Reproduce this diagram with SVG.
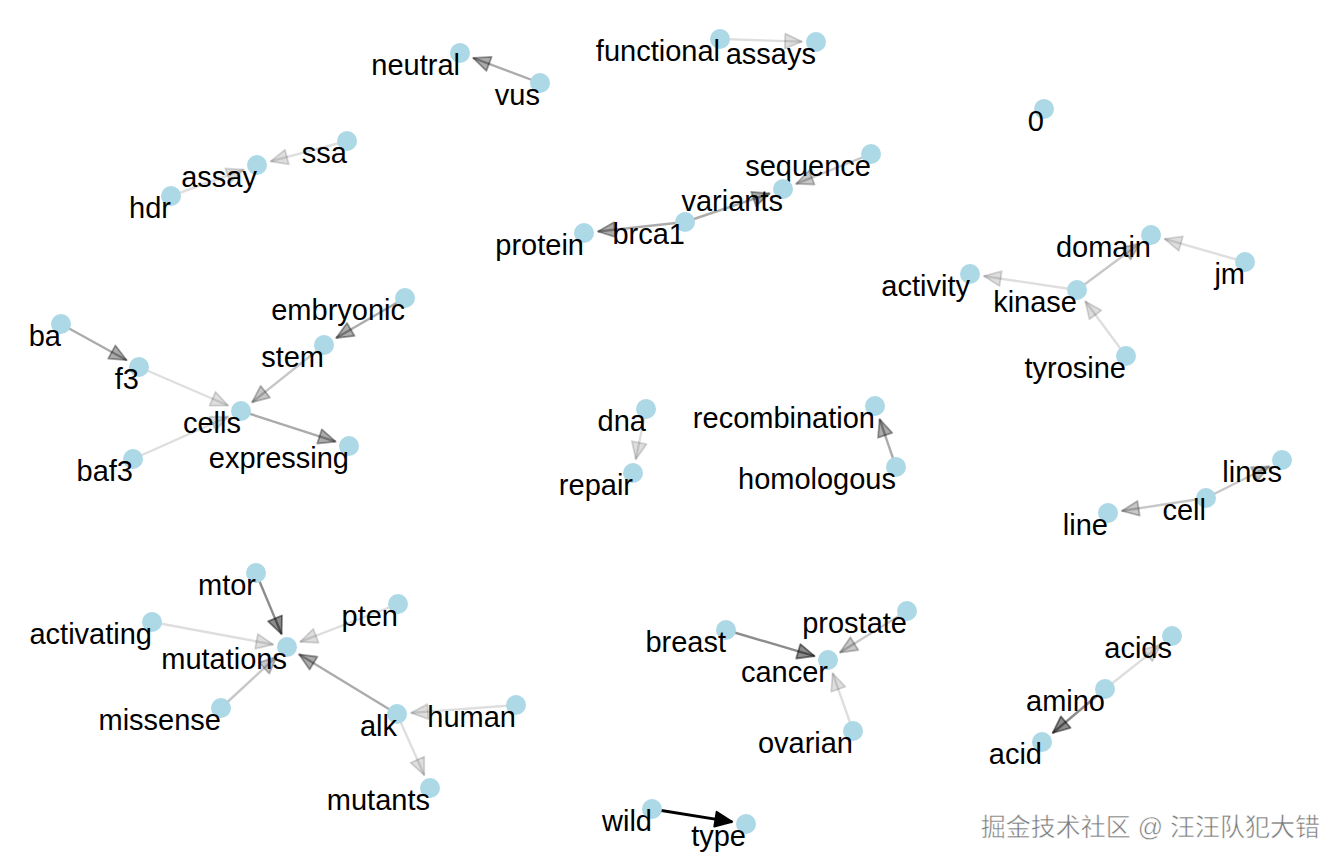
<svg xmlns="http://www.w3.org/2000/svg" width="1344" height="864" viewBox="0 0 1344 864">
<style>
.n circle{fill:#add8e6}
.n text{font-family:"Liberation Sans",Arial,Helvetica,sans-serif;font-size:29px;fill:#000;text-anchor:end}
.e{fill:none;stroke-width:2.4;stroke:#000}
.e1{stroke-opacity:0.13;marker-end:url(#m1)}
.e2{stroke-opacity:0.22;marker-end:url(#m2)}
.e3{stroke-opacity:0.33;marker-end:url(#m3)}
.e4{stroke-opacity:0.45;marker-end:url(#m4)}
.e5{stroke-opacity:1;stroke-width:2.8;marker-end:url(#m5)}
.wm{font-family:"Liberation Sans","Noto Sans CJK SC",sans-serif;font-size:25px;fill:#7a7a7a;stroke:#fff;stroke-width:0.5;text-anchor:end}
</style>
<defs>
<marker id="m1" markerUnits="userSpaceOnUse" markerWidth="26" markerHeight="26" refX="18" refY="8.5" orient="auto" overflow="visible"><polygon points="1,1 18,8.5 1,16" fill="#000" fill-opacity="0.13" stroke="#000" stroke-opacity="0.15" stroke-width="1.8" stroke-linejoin="round"/></marker>
<marker id="m2" markerUnits="userSpaceOnUse" markerWidth="26" markerHeight="26" refX="18" refY="8.5" orient="auto" overflow="visible"><polygon points="1,1 18,8.5 1,16" fill="#000" fill-opacity="0.22" stroke="#000" stroke-opacity="0.25" stroke-width="1.8" stroke-linejoin="round"/></marker>
<marker id="m3" markerUnits="userSpaceOnUse" markerWidth="26" markerHeight="26" refX="18" refY="8.5" orient="auto" overflow="visible"><polygon points="1,1 18,8.5 1,16" fill="#000" fill-opacity="0.33" stroke="#000" stroke-opacity="0.36" stroke-width="1.8" stroke-linejoin="round"/></marker>
<marker id="m4" markerUnits="userSpaceOnUse" markerWidth="26" markerHeight="26" refX="18" refY="8.5" orient="auto" overflow="visible"><polygon points="1,1 18,8.5 1,16" fill="#000" fill-opacity="0.45" stroke="#000" stroke-opacity="0.48" stroke-width="1.8" stroke-linejoin="round"/></marker>
<marker id="m5" markerUnits="userSpaceOnUse" markerWidth="26" markerHeight="26" refX="18" refY="8.5" orient="auto" overflow="visible"><polygon points="1,1 18,8.5 1,16" fill="#000" stroke="#000" stroke-width="1.8" stroke-linejoin="round"/></marker>
</defs>
<rect width="1344" height="864" fill="#fff"/>
<g id="connectors">
<path class="e e3" d="M540,83 L473.1,57.9"/>
<path class="e e1" d="M720,39 L802,41.6"/>
<path class="e e1" d="M347,141 L270.5,161.4"/>
<path class="e e1" d="M171,196 L243.8,169.7"/>
<path class="e e2" d="M871,154 L796,183.8"/>
<path class="e e3" d="M685,222 L769.7,193.5"/>
<path class="e e3" d="M685,222 L597.9,231.5"/>
<path class="e e1" d="M1245,262 L1164.5,238.9"/>
<path class="e e2" d="M1077,290 L1139.8,243.4"/>
<path class="e e1" d="M1077,290 L983.8,276.1"/>
<path class="e e1" d="M1126,356 L1085.3,301.2"/>
<path class="e e3" d="M61,324 L126.7,360.2"/>
<path class="e e1" d="M139,367 L228.1,405.5"/>
<path class="e e3" d="M405,298 L336.1,338"/>
<path class="e e2" d="M324,345 L252,402.3"/>
<path class="e e3" d="M241,411 L335.7,441.7"/>
<path class="e e1" d="M133,459 L228.2,416.7"/>
<path class="e e1" d="M646,409 L635.8,459.3"/>
<path class="e e3" d="M896,467 L879.6,419.2"/>
<path class="e e2" d="M1206,498 L1269.5,466.3"/>
<path class="e e2" d="M1206,498 L1121.8,510.9"/>
<path class="e e4" d="M256,573 L281.6,634.1"/>
<path class="e e1" d="M398,604 L300.1,641.9"/>
<path class="e e1" d="M152,622 L273.2,644.5"/>
<path class="e e2" d="M221,708 L276.7,656.5"/>
<path class="e e3" d="M397,714 L299,654.3"/>
<path class="e e1" d="M516,705 L411,712.9"/>
<path class="e e1" d="M397,714 L424.3,775.2"/>
<path class="e e4" d="M726,630 L814.6,656.1"/>
<path class="e e2" d="M907,611 L839.9,652.6"/>
<path class="e e1" d="M853,731 L832.6,673.2"/>
<path class="e e1" d="M1105,689 L1161,644.7"/>
<path class="e e4" d="M1105,689 L1052.7,733"/>
<path class="e e5" d="M652,809 L732.2,821.8"/>
</g>
<g id="nodes">
<g id="n-neutral" class="n"><circle cx="460" cy="53" r="10"/><text x="460" y="75">neutral</text></g>
<g id="n-vus" class="n"><circle cx="540" cy="83" r="10"/><text x="540" y="105">vus</text></g>
<g id="n-functional" class="n"><circle cx="720" cy="39" r="10"/><text x="720" y="61">functional</text></g>
<g id="n-assays" class="n"><circle cx="816" cy="42" r="10"/><text x="816" y="64">assays</text></g>
<g id="n-0" class="n"><circle cx="1044" cy="109" r="10"/><text x="1044" y="131">0</text></g>
<g id="n-ssa" class="n"><circle cx="347" cy="141" r="10"/><text x="347" y="163">ssa</text></g>
<g id="n-assay" class="n"><circle cx="257" cy="165" r="10"/><text x="257" y="187">assay</text></g>
<g id="n-hdr" class="n"><circle cx="171" cy="196" r="10"/><text x="171" y="218">hdr</text></g>
<g id="n-sequence" class="n"><circle cx="871" cy="154" r="10"/><text x="871" y="176">sequence</text></g>
<g id="n-variants" class="n"><circle cx="783" cy="189" r="10"/><text x="783" y="211">variants</text></g>
<g id="n-brca1" class="n"><circle cx="685" cy="222" r="10"/><text x="685" y="244">brca1</text></g>
<g id="n-protein" class="n"><circle cx="584" cy="233" r="10"/><text x="584" y="255">protein</text></g>
<g id="n-domain" class="n"><circle cx="1151" cy="235" r="10"/><text x="1151" y="257">domain</text></g>
<g id="n-jm" class="n"><circle cx="1245" cy="262" r="10"/><text x="1245" y="284">jm</text></g>
<g id="n-activity" class="n"><circle cx="970" cy="274" r="10"/><text x="970" y="296">activity</text></g>
<g id="n-kinase" class="n"><circle cx="1077" cy="290" r="10"/><text x="1077" y="312">kinase</text></g>
<g id="n-tyrosine" class="n"><circle cx="1126" cy="356" r="10"/><text x="1126" y="378">tyrosine</text></g>
<g id="n-ba" class="n"><circle cx="61" cy="324" r="10"/><text x="61" y="346">ba</text></g>
<g id="n-f3" class="n"><circle cx="139" cy="367" r="10"/><text x="139" y="389">f3</text></g>
<g id="n-embryonic" class="n"><circle cx="405" cy="298" r="10"/><text x="405" y="320">embryonic</text></g>
<g id="n-stem" class="n"><circle cx="324" cy="345" r="10"/><text x="324" y="367">stem</text></g>
<g id="n-cells" class="n"><circle cx="241" cy="411" r="10"/><text x="241" y="433">cells</text></g>
<g id="n-baf3" class="n"><circle cx="133" cy="459" r="10"/><text x="133" y="481">baf3</text></g>
<g id="n-expressing" class="n"><circle cx="349" cy="446" r="10"/><text x="349" y="468">expressing</text></g>
<g id="n-dna" class="n"><circle cx="646" cy="409" r="10"/><text x="646" y="431">dna</text></g>
<g id="n-repair" class="n"><circle cx="633" cy="473" r="10"/><text x="633" y="495">repair</text></g>
<g id="n-recombination" class="n"><circle cx="875" cy="406" r="10"/><text x="875" y="428">recombination</text></g>
<g id="n-homologous" class="n"><circle cx="896" cy="467" r="10"/><text x="896" y="489">homologous</text></g>
<g id="n-lines" class="n"><circle cx="1282" cy="460" r="10"/><text x="1282" y="482">lines</text></g>
<g id="n-cell" class="n"><circle cx="1206" cy="498" r="10"/><text x="1206" y="520">cell</text></g>
<g id="n-line" class="n"><circle cx="1108" cy="513" r="10"/><text x="1108" y="535">line</text></g>
<g id="n-mtor" class="n"><circle cx="256" cy="573" r="10"/><text x="256" y="595">mtor</text></g>
<g id="n-pten" class="n"><circle cx="398" cy="604" r="10"/><text x="398" y="626">pten</text></g>
<g id="n-activating" class="n"><circle cx="152" cy="622" r="10"/><text x="152" y="644">activating</text></g>
<g id="n-mutations" class="n"><circle cx="287" cy="647" r="10"/><text x="287" y="669">mutations</text></g>
<g id="n-missense" class="n"><circle cx="221" cy="708" r="10"/><text x="221" y="730">missense</text></g>
<g id="n-alk" class="n"><circle cx="397" cy="714" r="10"/><text x="397" y="736">alk</text></g>
<g id="n-human" class="n"><circle cx="516" cy="705" r="10"/><text x="516" y="727">human</text></g>
<g id="n-mutants" class="n"><circle cx="430" cy="788" r="10"/><text x="430" y="810">mutants</text></g>
<g id="n-breast" class="n"><circle cx="726" cy="630" r="10"/><text x="726" y="652">breast</text></g>
<g id="n-prostate" class="n"><circle cx="907" cy="611" r="10"/><text x="907" y="633">prostate</text></g>
<g id="n-cancer" class="n"><circle cx="828" cy="660" r="10"/><text x="828" y="682">cancer</text></g>
<g id="n-ovarian" class="n"><circle cx="853" cy="731" r="10"/><text x="853" y="753">ovarian</text></g>
<g id="n-acids" class="n"><circle cx="1172" cy="636" r="10"/><text x="1172" y="658">acids</text></g>
<g id="n-amino" class="n"><circle cx="1105" cy="689" r="10"/><text x="1105" y="711">amino</text></g>
<g id="n-acid" class="n"><circle cx="1042" cy="742" r="10"/><text x="1042" y="764">acid</text></g>
<g id="n-wild" class="n"><circle cx="652" cy="809" r="10"/><text x="652" y="831">wild</text></g>
<g id="n-type" class="n"><circle cx="746" cy="824" r="10"/><text x="746" y="846">type</text></g>
</g>
<text class="wm" x="1320" y="836">掘金技术社区 @ 汪汪队犯大错</text>
</svg>
